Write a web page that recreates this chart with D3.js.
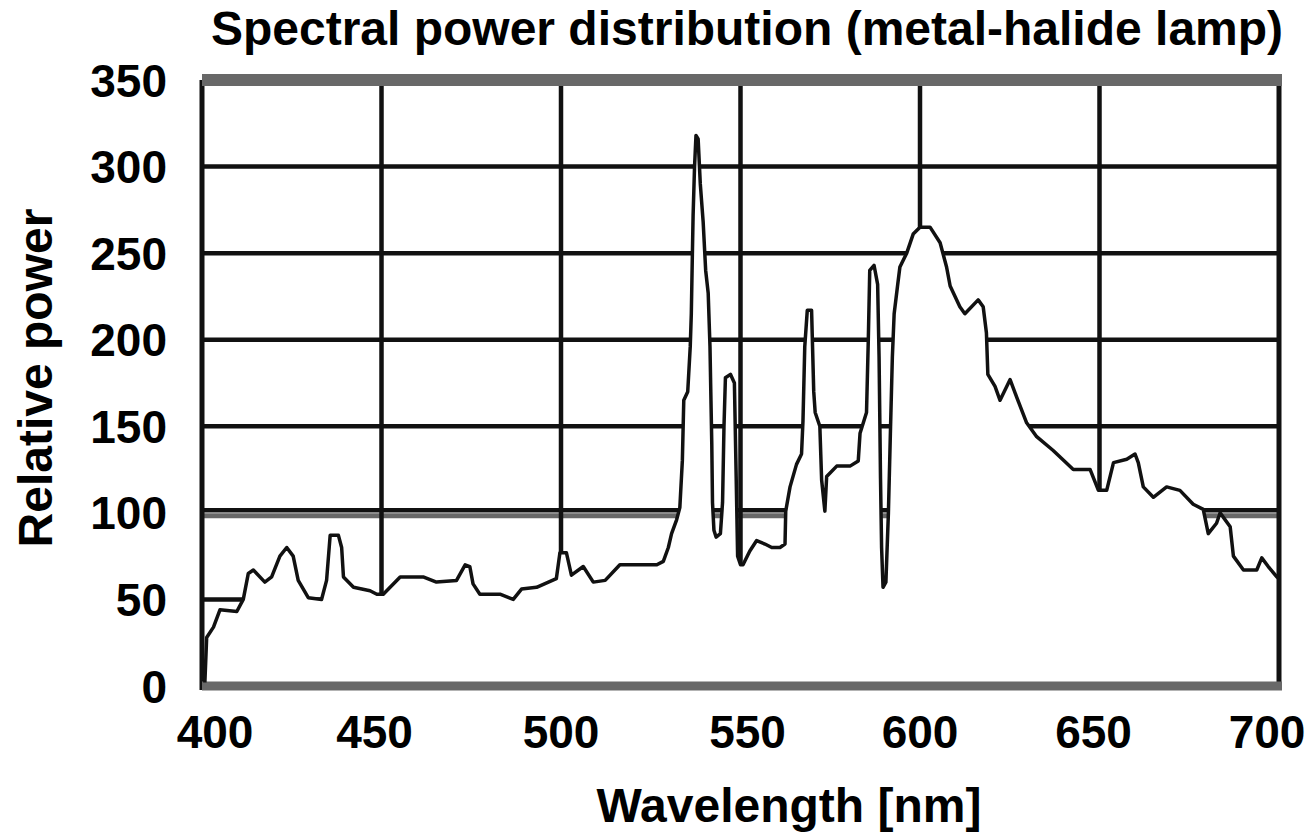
<!DOCTYPE html>
<html>
<head>
  <script src="https://d3js.org/d3.v7.min.js"></script>
  <style>
    body { margin: 0; background: #fff; }
    svg { display: block; }
    text { font-family: "Liberation Sans", Arial, sans-serif; font-weight: bold; fill: #000; }
    .grid line { stroke: #111; stroke-width: 4.5px; }
  </style>
</head>
<body>
  <script>
    // values
    var wavelength = [400.8, 401.3, 403.2, 405, 409.7, 411.5, 412.9, 414.3, 417.5, 419.4,
      421.7, 423.6, 425.4, 426.8, 429.6, 433.3, 434.7, 435.7, 438, 438.9,
      439.4, 442.2, 446.8, 448.7, 450.5, 452.4, 455.2, 461.6, 465.3, 470.9,
      473.3, 474.6, 475.5, 477.4, 483, 486.7, 489, 493.2, 498.7, 499.7,
      501.5, 502.9, 506.2, 509, 512.3, 516.4, 526.7, 528.5, 529.9, 530.8,
      532.2, 533.1, 533.8, 534.2, 535.3, 536, 536.3, 536.6, 536.8, 537.2,
      537.6, 538.2, 538.8, 539.6, 540.3, 541, 541.5, 541.7, 542, 542.2,
      542.6, 543.2, 544.4, 545, 545.4, 545.8, 547.2, 548.3, 548.8, 549.2,
      550, 550.7, 552.6, 554.5, 556.8, 558.7, 561, 562.4, 562.6, 563.8,
      565.6, 567, 567.4, 567.9, 568.6, 569.8, 570.4, 570.8, 572.1, 572.6,
      573.5, 574, 576.8, 580.5, 582.8, 583.3, 585.1, 585.6, 586, 587.2,
      588.2, 588.6, 589, 589.3, 589.7, 590.5, 591.2, 591.8, 592.3, 592.8,
      593.8, 594.4, 596.3, 598.1, 600, 602.8, 605.6, 607.4, 608.4, 611.1,
      612.5, 616.2, 617.6, 618.5, 618.9, 620.9, 622.3, 625.1, 626.9, 629.7,
      632.5, 637.1, 642.7, 647.4, 649.7, 652, 653.9, 657.6, 659.9, 660.8,
      662.2, 665, 668.7, 672.4, 676.1, 678.9, 680.3, 682.6, 683.6, 686.4,
      687.3, 690.1, 693.8, 695.2, 697, 699.4, 700];
    var power = [2, 28, 34, 44, 43, 50, 65, 67, 60, 63,
      75, 80, 75, 61, 51, 50, 61, 87, 87, 80,
      63, 57, 55, 53, 53, 57, 63, 63, 60, 61,
      70, 69, 59, 53, 53, 50, 56, 57, 62, 77,
      77, 64, 69, 60, 61, 70, 70, 72, 80, 88,
      96, 103, 130, 165, 170, 196, 215, 250, 272, 300,
      318, 316, 290, 268, 240, 227, 196, 173, 140, 106,
      90, 86, 88, 106, 150, 178, 180, 175, 120, 75,
      70, 70, 78, 84, 82, 80, 80, 82, 101, 115,
      128, 134, 153, 196, 217, 217, 170, 158, 150, 119,
      101, 121, 127, 127, 130, 146, 158, 200, 240, 243,
      232, 190, 120, 80, 57, 60, 100, 150, 190, 215,
      232, 242, 250, 261, 265, 265, 256, 242, 231, 219,
      215, 223, 219, 204, 180, 173, 165, 177, 167, 152,
      144, 136, 125, 125, 113, 113, 129, 131, 134, 129,
      115, 109, 115, 113, 105, 102, 88, 94, 100, 92,
      75, 67, 67, 74, 69, 63, 62];

    var xTicks = [400, 450, 500, 550, 600, 650, 700];
    var yTicks = [0, 50, 100, 150, 200, 250, 300, 350];

    var data = wavelength.map(function(w, i) { return { x: w, y: power[i] }; });

    var width = 1313;
    var height = 838;
    var svg = d3.select("body").append("svg")
        .attr("width", width)
        .attr("height", height);

    var x = d3.scaleLinear()
        .domain([400, 700])
        .range([202, 1279]);
    var y = d3.scaleLinear()
        .domain([0, 350])
        .range([686, 80]);

    // grid (hidden under the curve by the white area)
    var grid = svg.append("g").attr("class", "grid");
    grid.selectAll(".hgrid")
        .data(yTicks.filter(function(d) { return d > 0 && d < 350; }))
      .enter().append("line")
        .attr("class", "hgrid")
        .attr("x1", x(400)).attr("x2", x(700))
        .attr("y1", function(d) { return d == 100 ? y(d) - 2.5 : y(d); })
        .attr("y2", function(d) { return d == 100 ? y(d) - 2.5 : y(d); });
    grid.append("line")
        .attr("x1", x(400)).attr("x2", x(700))
        .attr("y1", y(100) + 3).attr("y2", y(100) + 3)
        .style("stroke", "#686868").style("stroke-width", "5px");
    grid.selectAll(".vgrid")
        .data(xTicks.filter(function(d) { return d > 400 && d < 700; }))
      .enter().append("line")
        .attr("class", "vgrid")
        .attr("x1", function(d) { return x(d); })
        .attr("x2", function(d) { return x(d); })
        .attr("y1", y(350)).attr("y2", y(0));

    // white fill under the spectrum
    var area = d3.area()
        .x(function(d) { return x(d.x); })
        .y0(y(0))
        .y1(function(d) { return y(d.y); });
    svg.append("path")
        .datum(data)
        .attr("d", area)
        .style("fill", "#fff");

    // frame
    svg.append("line")
        .attr("x1", x(400)).attr("x2", x(400))
        .attr("y1", y(350)).attr("y2", y(0) + 4)
        .style("stroke", "#111").style("stroke-width", "5px");
    svg.append("line")
        .attr("x1", x(700)).attr("x2", x(700))
        .attr("y1", y(350)).attr("y2", y(0))
        .style("stroke", "#111").style("stroke-width", "5px");
    svg.append("line")
        .attr("x1", x(400)).attr("x2", x(700) + 3)
        .attr("y1", y(350)).attr("y2", y(350))
        .style("stroke", "#686868").style("stroke-width", "12px");
    svg.append("line")
        .attr("x1", x(400)).attr("x2", x(700) + 3)
        .attr("y1", y(0)).attr("y2", y(0))
        .style("stroke", "#686868").style("stroke-width", "9px");

    // spectrum line
    var line = d3.line()
        .x(function(d) { return x(d.x); })
        .y(function(d) { return y(d.y); });
    svg.append("path")
        .datum(data)
        .attr("d", line)
        .style("fill", "none")
        .style("stroke", "#111")
        .style("stroke-width", "3.5px")
        .style("stroke-linejoin", "round");

    // tick labels
    svg.selectAll(".ylab")
        .data(yTicks)
      .enter().append("text")
        .attr("class", "ylab")
        .attr("x", 167)
        .attr("y", function(d) { return y(d); })
        .attr("dy", "0.36em")
        .attr("text-anchor", "end")
        .style("font-size", "46px")
        .text(function(d) { return d; });

    var xShift = { 400: 13, 450: -7, 550: 7, 650: -6, 700: -12 };
    svg.selectAll(".xlab")
        .data(xTicks)
      .enter().append("text")
        .attr("class", "xlab")
        .attr("x", function(d) { return x(d) + (xShift[d] || 0); })
        .attr("y", 748)
        .attr("text-anchor", "middle")
        .style("font-size", "46px")
        .text(function(d) { return d; });

    svg.append("text")
        .attr("x", 747)
        .attr("y", 45)
        .attr("text-anchor", "middle")
        .style("font-size", "48px")
        .text("Spectral power distribution (metal-halide lamp)");

    svg.append("text")
        .attr("x", 789)
        .attr("y", 822)
        .attr("text-anchor", "middle")
        .style("font-size", "48px")
        .text("Wavelength [nm]");

    svg.append("text")
        .attr("transform", "translate(52,378) rotate(-90)")
        .attr("text-anchor", "middle")
        .style("font-size", "48px")
        .text("Relative power");
  </script>
</body>
</html>
